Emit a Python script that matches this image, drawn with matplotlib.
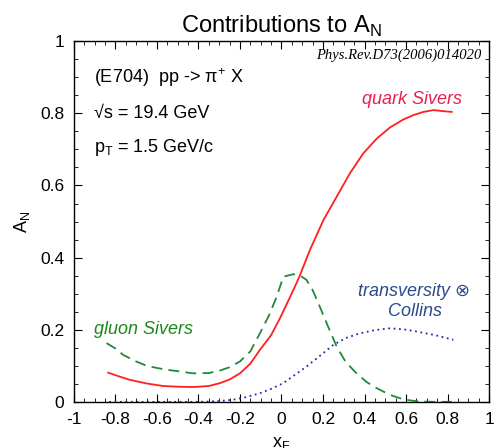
import matplotlib
matplotlib.use("Agg")
import matplotlib.pyplot as plt
from matplotlib.ticker import MultipleLocator, FuncFormatter

plt.rcParams["font.family"] = ["Liberation Sans", "DejaVu Sans"]
plt.rcParams["axes.unicode_minus"] = False

# values (x_F, A_N)
quark_x = [-0.835, -0.78, -0.73, -0.65, -0.57, -0.50, -0.425, -0.35, -0.296, -0.25, -0.2,
           -0.15, -0.104, -0.05, -0.007, 0.035, 0.073, 0.086, 0.137, 0.202, 0.266, 0.33,
           0.394, 0.459, 0.523, 0.587, 0.635, 0.684, 0.732, 0.78, 0.82]
quark_y = [0.081, 0.070, 0.061, 0.051, 0.044, 0.042, 0.041, 0.044, 0.052, 0.062, 0.079,
           0.106, 0.144, 0.185, 0.232, 0.283, 0.33, 0.347, 0.421, 0.504, 0.569, 0.634,
           0.689, 0.730, 0.761, 0.783, 0.795, 0.804, 0.809, 0.806, 0.804]

gluon_x = [-0.843, -0.80, -0.762, -0.70, -0.65, -0.60, -0.553, -0.50, -0.425, -0.35, -0.296,
           -0.25, -0.2, -0.15, -0.104, -0.06, -0.023, 0.009, 0.057, 0.09, 0.121, 0.15,
           0.178, 0.22, 0.266, 0.31, 0.362, 0.41, 0.459, 0.52, 0.571, 0.62, 0.667, 0.74, 0.82]
gluon_y = [0.163, 0.148, 0.13, 0.112, 0.100, 0.094, 0.089, 0.085, 0.079, 0.080, 0.087,
           0.096, 0.112, 0.140, 0.19, 0.24, 0.292, 0.347, 0.354, 0.350, 0.338, 0.31,
           0.273, 0.215, 0.153, 0.11, 0.079, 0.055, 0.038, 0.020, 0.010, 0.004, 0.001, 0.0, 0.0]

coll_x = [-0.83, -0.7, -0.6, -0.5, -0.4, -0.3, -0.232, -0.17, -0.104, -0.05, 0.009, 0.06,
          0.121, 0.19, 0.25, 0.31, 0.378, 0.45, 0.523, 0.59, 0.651, 0.74, 0.828]
coll_y = [0.0, 0.0, 0.0, 0.0, 0.0, 0.002, 0.006, 0.013, 0.024, 0.036, 0.052, 0.073,
          0.098, 0.13, 0.158, 0.177, 0.19, 0.199, 0.204, 0.201, 0.195, 0.185, 0.172]

fig, ax = plt.subplots(figsize=(4.96, 4.48), dpi=100)
fig.subplots_adjust(left=0.149, right=0.986, bottom=0.103, top=0.908)

ax.plot(quark_x, quark_y, color="#ff1f1f", lw=1.3)
ax.plot(gluon_x, gluon_y, color="#1f8a3c", lw=1.3, ls=(0, (6, 3.5)))
ax.plot(coll_x, coll_y, color="#2a2aa8", lw=1.3, ls=(0, (1, 2)))

ax.set_xlim(-1, 1)
ax.set_ylim(0, 1)
fmt = FuncFormatter(lambda v, pos: f"{round(v, 2):g}" if abs(v) > 1e-9 else "0")
ax.xaxis.set_major_locator(MultipleLocator(0.2))
ax.xaxis.set_minor_locator(MultipleLocator(0.05))
ax.yaxis.set_major_locator(MultipleLocator(0.2))
ax.yaxis.set_minor_locator(MultipleLocator(0.05))
ax.xaxis.set_major_formatter(fmt)
ax.yaxis.set_major_formatter(fmt)
ax.tick_params(which="both", direction="in", top=True, right=True, labelsize=12.5, pad=7)
ax.tick_params(which="major", length=6, width=0.8)
ax.tick_params(which="minor", length=3, width=0.6)
for s in ax.spines.values():
    s.set_linewidth(1.0)

ax.set_title(r"Contributions to A$_\mathregular{N}$", fontsize=17, pad=6)
ax.set_ylabel(r"A$_\mathregular{N}$", fontsize=13, labelpad=6, rotation=90)
ax.set_xlabel(r"x$_\mathregular{F}$", fontsize=13, labelpad=6)

ax.text(0.962, 0.962, "Phys.Rev.D73(2006)014020", ha="right", va="center",
        fontsize=10.5, family="Liberation Serif", style="italic")
ax.text(-0.904, 0.90, "(E704)  pp -> \u03c0$^\\mathregular{+}$ X", ha="left", va="center",
        fontsize=13)
ax.text(-0.904, 0.80, "\u221as = 19.4 GeV", ha="left", va="center", fontsize=13)
ax.text(-0.904, 0.706, r"p$_\mathregular{T}$ = 1.5 GeV/c", ha="left", va="center", fontsize=13)

ax.text(0.388, 0.839, "quark Sivers", ha="left", va="center", fontsize=13,
        style="italic", color="#e8204e")
ax.text(-0.904, 0.20, "gluon Sivers", ha="left", va="center", fontsize=13,
        style="italic", color="#1a8a1a")
ax.text(0.639, 0.305, "transversity \u2297", ha="center", va="center", fontsize=13,
        style="italic", color="#2b4a8c")
ax.text(0.645, 0.25, "Collins", ha="center", va="center", fontsize=13,
        style="italic", color="#2b4a8c")

fig.savefig("out.png", dpi=100)
